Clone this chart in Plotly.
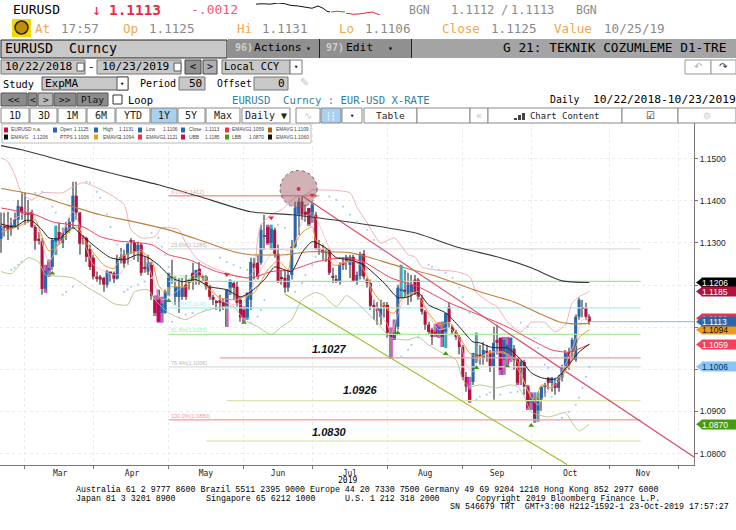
import plotly.graph_objects as go

W, H = 736, 530
PL, PR, PT, PB = 0, 694, 122, 465

opens = [1.1310,1.1341,1.1341,1.1334,1.1338,1.1355,1.1386,1.1372,1.1372,1.1374,
1.1338,1.1310,1.1305,1.1191,1.1234,1.1243,1.1303,1.1326,1.1300,1.1324,
1.1336,1.1350,1.1412,1.1372,1.1315,1.1312,1.1286,1.1265,1.1220,1.1220,
1.1217,1.1201,1.1232,1.1229,1.1215,1.1262,1.1272,1.1272,1.1307,1.1300,
1.1279,1.1296,1.1243,1.1232,1.1248,1.1165,1.1165,1.1134,1.1134,1.1196,
1.1220,1.1172,1.1172,1.1172,1.1201,1.1205,1.1229,1.1217,1.1239,1.1220,
1.1220,1.1196,1.1172,1.1160,1.1165,1.1160,1.1149,1.1194,1.1205,1.1196,
1.1165,1.1141,1.1123,1.1165,1.1251,1.1253,1.1253,1.1315,1.1338,1.1300,
1.1331,1.1274,1.1217,1.1217,1.1194,1.1224,1.1291,1.1367,1.1398,1.1374,
1.1383,1.1367,1.1367,1.1286,1.1284,1.1277,1.1284,1.1222,1.1213,1.1208,
1.1255,1.1255,1.1248,1.1267,1.1210,1.1222,1.1274,1.1213,1.1205,1.1151,
1.1146,1.1125,1.1153,1.1153,1.1087,1.1070,1.1101,1.1186,1.1189,1.1177,
1.1182,1.1213,1.1213,1.1170,1.1137,1.1106,1.1094,1.1089,1.1082,1.1094,
1.1089,1.1149,1.1101,1.1089,1.1077,1.1053,1.0982,1.0952,1.0970,1.1027,
1.1035,1.1027,1.1044,1.1041,1.1006,1.1070,1.1075,1.1023,1.1035,1.1023,
1.1049,1.1023,1.0987,1.1018,1.0959,1.0921,1.0928,1.0902,1.0928,1.0963,
1.0980,1.0968,1.0968,1.0956,1.0980,1.1004,1.1041,1.1041,1.1023,1.1125,
1.1146,1.1146,1.1125]
highs = [1.1372,1.1372,1.1374,1.1360,1.1372,1.1402,1.1421,1.1419,1.1402,1.1379,
1.1343,1.1326,1.1312,1.1248,1.1260,1.1312,1.1341,1.1348,1.1336,1.1350,
1.1360,1.1445,1.1445,1.1374,1.1319,1.1315,1.1296,1.1272,1.1232,1.1224,
1.1220,1.1236,1.1232,1.1232,1.1272,1.1288,1.1284,1.1300,1.1312,1.1307,
1.1303,1.1300,1.1267,1.1272,1.1255,1.1175,1.1189,1.1172,1.1189,1.1229,
1.1260,1.1220,1.1217,1.1217,1.1224,1.1213,1.1253,1.1236,1.1255,1.1224,
1.1224,1.1201,1.1177,1.1165,1.1177,1.1168,1.1189,1.1213,1.1208,1.1208,
1.1172,1.1149,1.1182,1.1265,1.1265,1.1270,1.1343,1.1367,1.1343,1.1343,
1.1336,1.1296,1.1236,1.1236,1.1236,1.1307,1.1398,1.1407,1.1414,1.1391,
1.1383,1.1395,1.1374,1.1307,1.1296,1.1288,1.1288,1.1241,1.1224,1.1255,
1.1265,1.1272,1.1272,1.1272,1.1232,1.1279,1.1284,1.1217,1.1213,1.1165,
1.1160,1.1165,1.1160,1.1160,1.1099,1.1118,1.1201,1.1248,1.1236,1.1229,
1.1224,1.1224,1.1217,1.1177,1.1141,1.1113,1.1099,1.1108,1.1111,1.1113,
1.1134,1.1160,1.1106,1.1094,1.1082,1.1058,1.0994,1.0982,1.1039,1.1087,
1.1058,1.1065,1.1058,1.1046,1.1101,1.1106,1.1075,1.1077,1.1077,1.1075,
1.1058,1.1027,1.1023,1.1023,1.0963,1.0945,1.0945,1.0945,1.0959,1.0968,
1.0982,1.0982,1.0980,1.0987,1.1011,1.1046,1.1051,1.1075,1.1130,1.1170,
1.1165,1.1158,1.1131]
lows = [1.1277,1.1315,1.1307,1.1317,1.1338,1.1331,1.1355,1.1343,1.1348,1.1336,
1.1284,1.1296,1.1177,1.1182,1.1220,1.1236,1.1272,1.1296,1.1288,1.1307,
1.1324,1.1336,1.1355,1.1272,1.1296,1.1255,1.1236,1.1213,1.1208,1.1201,
1.1184,1.1194,1.1208,1.1205,1.1213,1.1251,1.1241,1.1248,1.1274,1.1260,
1.1255,1.1222,1.1229,1.1224,1.1165,1.1127,1.1111,1.1111,1.1132,1.1175,
1.1203,1.1153,1.1134,1.1165,1.1165,1.1189,1.1189,1.1201,1.1201,1.1208,
1.1189,1.1165,1.1153,1.1141,1.1137,1.1141,1.1101,1.1177,1.1165,1.1149,
1.1113,1.1113,1.1118,1.1141,1.1213,1.1213,1.1248,1.1284,1.1296,1.1284,
1.1265,1.1205,1.1201,1.1182,1.1184,1.1213,1.1288,1.1319,1.1355,1.1350,
1.1341,1.1348,1.1284,1.1272,1.1260,1.1255,1.1224,1.1205,1.1205,1.1201,
1.1236,1.1236,1.1217,1.1208,1.1201,1.1213,1.1213,1.1194,1.1141,1.1118,
1.1106,1.1106,1.1123,1.1075,1.1025,1.1070,1.1094,1.1170,1.1170,1.1153,
1.1160,1.1177,1.1165,1.1130,1.1094,1.1082,1.1058,1.1077,1.1075,1.1053,
1.1051,1.1099,1.1082,1.1070,1.1035,1.0975,1.0947,1.0921,1.0963,1.1015,
1.1011,1.1011,1.1018,1.0994,1.0928,1.1035,1.0987,1.0987,1.1011,1.1018,
1.0999,1.0963,1.0963,1.0940,1.0904,1.0904,1.0873,1.0876,1.0902,1.0935,
1.0952,1.0947,1.0940,1.0947,1.0971,1.0999,1.0999,1.1025,1.1018,1.1118,
1.1123,1.1118,1.1106]
closes = [1.1341,1.1336,1.1331,1.1343,1.1357,1.1388,1.1372,1.1367,1.1367,1.1338,
1.1305,1.1305,1.1191,1.1234,1.1241,1.1307,1.1312,1.1305,1.1324,1.1336,
1.1350,1.1412,1.1372,1.1298,1.1310,1.1267,1.1243,1.1220,1.1215,1.1213,
1.1201,1.1232,1.1227,1.1215,1.1262,1.1265,1.1251,1.1298,1.1303,1.1279,
1.1296,1.1229,1.1239,1.1255,1.1175,1.1134,1.1113,1.1156,1.1184,1.1217,
1.1215,1.1196,1.1196,1.1196,1.1172,1.1213,1.1208,1.1236,1.1220,1.1217,
1.1196,1.1172,1.1165,1.1158,1.1158,1.1149,1.1189,1.1208,1.1194,1.1158,
1.1123,1.1123,1.1182,1.1255,1.1241,1.1220,1.1331,1.1319,1.1300,1.1334,
1.1274,1.1208,1.1215,1.1194,1.1224,1.1291,1.1383,1.1398,1.1367,1.1367,
1.1345,1.1391,1.1286,1.1284,1.1277,1.1281,1.1229,1.1217,1.1210,1.1248,
1.1248,1.1267,1.1267,1.1210,1.1224,1.1274,1.1220,1.1205,1.1151,1.1149,
1.1139,1.1146,1.1149,1.1087,1.1075,1.1087,1.1194,1.1191,1.1184,1.1201,
1.1201,1.1182,1.1172,1.1137,1.1106,1.1089,1.1077,1.1084,1.1101,1.1077,
1.1134,1.1113,1.1089,1.1077,1.1053,1.0982,1.0959,1.0928,1.1039,1.1035,
1.1030,1.1046,1.1039,1.1006,1.1063,1.1063,1.0999,1.1070,1.1058,1.1075,
1.1023,1.0968,1.1018,1.0959,1.0909,1.0940,1.0883,1.0928,1.0959,1.0959,
1.0968,1.0980,1.0956,1.0980,1.1006,1.1039,1.1011,1.1070,1.1125,1.1165,
1.1144,1.1125,1.1113]
magenta_bars = [13,14,45,46,47,66,71,78,90,114,115,127,128,129,137,146,147,148,151,154,155]
cyan_bars = [16,49,67,72,79,91,117,130,139,149,156,157]

ema_long_i = [0,6,19,32,46,58,73,85,97,109,122,133,146,155,164,172]
ema_long_v = [1.1531,1.1521,1.1493,1.1466,1.1438,1.1410,1.1374,1.1367,1.1355,1.1341,1.1322,1.1291,1.1265,1.1241,1.1210,1.1206]
ema_brown_i = [0,10,19,29,39,49,58,68,73,83,90,102,107,117,126,140,150,157,163,167,172]
ema_brown_v = [1.1429,1.1414,1.1391,1.1367,1.1350,1.1331,1.1307,1.1279,1.1272,1.1272,1.1279,1.1277,1.1267,1.1243,1.1224,1.1184,1.1160,1.1134,1.1113,1.1108,1.1109]
ema_red_i = [0,10,15,24,29,34,44,49,55,63,73,79,85,92,100,106,114,122,131,141,148,155,161,166,172]
ema_red_v = [1.1383,1.1367,1.1350,1.1338,1.1315,1.1305,1.1296,1.1272,1.1260,1.1232,1.1217,1.1232,1.1236,1.1255,1.1265,1.1255,1.1217,1.1196,1.1158,1.1125,1.1101,1.1070,1.1046,1.1041,1.1059]
ema_orange_i = [0,4,8,10,12,14,17,19,22,24,27,30,33,35,38,41,44,46,48,50,54,57,61,64,69,71,74,76,78,81,84,85,88,91,92,95,97,99,102,105,107,109,114,115,117,120,122,125,128,131,134,137,139,140,143,147,151,153,156,158,161,164,167,169,172]
ema_orange_v = [1.1326,1.1336,1.1350,1.1355,1.1315,1.1281,1.1296,1.1319,1.1338,1.1312,1.1277,1.1248,1.1239,1.1265,1.1277,1.1279,1.1260,1.1201,1.1182,1.1196,1.1196,1.1217,1.1189,1.1170,1.1165,1.1172,1.1182,1.1208,1.1236,1.1258,1.1236,1.1284,1.1324,1.1338,1.1307,1.1284,1.1248,1.1248,1.1260,1.1248,1.1220,1.1182,1.1134,1.1134,1.1165,1.1182,1.1172,1.1134,1.1106,1.1111,1.1077,1.1039,1.1030,1.1030,1.1041,1.1041,1.1018,1.0968,1.0923,1.0963,1.0956,1.0982,1.1025,1.1075,1.1094]
ema_black_i = [0,4,7,9,12,14,17,21,24,28,32,36,40,43,46,50,53,57,61,66,70,73,77,80,83,85,88,91,95,98,102,106,112,116,119,122,125,130,134,138,140,143,146,148,152,155,158,162,166,169,172]
ema_black_v = [1.1345,1.1338,1.1353,1.1353,1.1331,1.1312,1.1310,1.1336,1.1315,1.1288,1.1265,1.1260,1.1272,1.1265,1.1248,1.1217,1.1208,1.1213,1.1196,1.1189,1.1172,1.1184,1.1213,1.1243,1.1236,1.1232,1.1277,1.1303,1.1288,1.1265,1.1260,1.1248,1.1205,1.1170,1.1172,1.1182,1.1153,1.1134,1.1101,1.1065,1.1063,1.1053,1.1051,1.1051,1.1023,1.0992,1.0980,1.0977,1.1011,1.1041,1.1060]
ema_pink_i = [0,9,14,21,27,34,41,47,52,58,64,70,76,80,85,88,91,95,98,102,106,108,110,113,114,116,118,122,125,128,131,134,136,138,140,144,148,152,155,157,159,162,165,168,170,172]
ema_pink_v = [1.1336,1.1374,1.1255,1.1374,1.1248,1.1224,1.1284,1.1165,1.1189,1.1232,1.1165,1.1153,1.1236,1.1284,1.1284,1.1350,1.1372,1.1307,1.1255,1.1255,1.1255,1.1189,1.1141,1.1106,1.1082,1.1130,1.1170,1.1184,1.1130,1.1094,1.1099,1.1070,1.1011,1.0994,1.1027,1.1041,1.1035,1.0987,1.0933,1.0916,1.0940,1.0968,1.1011,1.1070,1.1118,1.1121]
ubb_i = [0,2,4,6,9,12,18,21,24,31,36,38,41,45,47,52,54,57,60,66,72,74,75,76,79,82,86,89,91,93,102,104,107,111,115,119,121,123,127,133,137,139,143,145,148,152,155,159,162,165,167,169,172]
ubb_v = [1.1502,1.1493,1.1462,1.1419,1.1402,1.1419,1.1419,1.1433,1.1443,1.1419,1.1391,1.1331,1.1312,1.1315,1.1336,1.1331,1.1300,1.1265,1.1248,1.1229,1.1217,1.1236,1.1307,1.1343,1.1367,1.1379,1.1407,1.1414,1.1426,1.1426,1.1419,1.1386,1.1348,1.1300,1.1312,1.1272,1.1267,1.1243,1.1236,1.1232,1.1220,1.1182,1.1158,1.1149,1.1113,1.1089,1.1111,1.1111,1.1089,1.1106,1.1158,1.1172,1.1185]
lbb_i = [0,3,6,8,11,13,15,21,25,30,33,37,39,43,45,49,54,58,63,68,71,75,79,82,85,88,92,94,98,101,104,110,114,119,122,125,129,133,135,137,140,145,149,151,153,155,160,165,167,169,172]
lbb_v = [1.1232,1.1227,1.1253,1.1265,1.1255,1.1224,1.1222,1.1217,1.1196,1.1172,1.1156,1.1153,1.1184,1.1189,1.1165,1.1134,1.1118,1.1134,1.1146,1.1149,1.1118,1.1101,1.1082,1.1101,1.1118,1.1165,1.1182,1.1177,1.1149,1.1175,1.1158,1.1111,1.1075,1.1070,1.1077,1.1058,1.1039,1.1023,1.0975,1.0959,1.0963,1.0956,1.0963,1.0959,1.0935,1.0899,1.0887,1.0897,1.0873,1.0854,1.0870]
ptps_i = [3,4,5,6,10,12,13,15,16,18,19,21,25,26,28,29,31,32,34,35,36,37,38,40,42,44,44,46,47,48,49,50,52,54,56,60,63,64,66,68,70,72,73,75,76,77,81,83,86,88,89,91,92,96,98,100,102,104,107,109,111,116,117,119,120,122,125,126,128,130,132,134,135,137,139,140,142,143,146,149,151,153,152,154,156,157,159,160,161,163,164,166,168,169,170,171,172]
ptps_v = [1.1236,1.1241,1.1248,1.1255,1.1419,1.1421,1.1405,1.1386,1.1372,1.1177,1.1184,1.1196,1.1445,1.1443,1.1421,1.1407,1.1367,1.1338,1.1296,1.1277,1.1184,1.1189,1.1196,1.1201,1.1208,1.1217,1.1324,1.1312,1.1291,1.1272,1.1243,1.1113,1.1123,1.1130,1.1134,1.1141,1.1146,1.1265,1.1255,1.1248,1.1241,1.1236,1.1111,1.1125,1.1141,1.1165,1.1343,1.1336,1.1184,1.1205,1.1224,1.1248,1.1267,1.1410,1.1402,1.1386,1.1367,1.1350,1.1331,1.1307,1.1284,1.1027,1.1030,1.1046,1.1058,1.1075,1.1248,1.1243,1.1236,1.1229,1.1217,1.1194,1.1172,1.1134,1.0928,1.0935,1.0940,1.0945,1.0940,1.0945,1.0947,1.0956,1.1111,1.1101,1.1075,1.1051,1.1011,1.1004,1.0935,1.0880,1.0885,1.0899,1.0916,1.0933,1.0956,1.0982,1.1006]

fib_labels = ["0.0%(1.1412)","23.6%(1.1286)","38.2%(1.1209)","50.0%(1.1146)","61.8%(1.1083)","76.4%(1.1006)","100.0%(1.0880)"]
fib_values = [1.1412,1.1286,1.1209,1.1146,1.1083,1.1006,1.0880]
fib_ends = [93,187,187,187,187,187,187]
fib_colors = ["#f59a9a","#dcdcdc","#9be89b","#9cf3f3","#a8ee9c","#dcdcdc","#f59a9a"]
level_labels = ["1.1027","1.0926","1.0830"]
level_values = [1.1027,1.0926,1.0830]
level_starts = [64,66,60]
level_label_x = [96,105,96]
level_colors = ["#f59a9a","#dde4b4","#dfeebc"]
trend_red_i, trend_red_v = [88,202.6],[1.1412,1.0792]
trend_green_i, trend_green_v = [83,165.5],[1.1179,1.0774]
down_i, down_v = [66,79,91],[1.1225,1.1360,1.1414]
up_i = [15,49,71,116,130,139,148,155]
up_v = [1.1228,1.1163,1.1111,1.1087,1.1037,1.1004,1.1008,1.0867]

y_ticks = [1.15,1.14,1.13,1.12,1.11,1.10,1.09,1.08]
y_text = ["1.1500","1.1400","1.1300","","","","1.0900","1.0800"]
month_pos = [17.3,38.3,59.9,81,102,124,145,166.4,187.7]
month_text = ["Mar","Apr","May","Jun","Jul","Aug","Sep","Oct","Nov"]
month_edges = [7,27,49,71,91,113,135,155,178,198]

spark_t_black = [0,6,14,22,29,34,42,49,56,62,67,71,74]
spark_v_black = [1.1137,1.1138,1.1137,1.1140,1.1138,1.1134,1.1132,1.1129,1.1126,1.1132,1.1126,1.1118,1.1116]
spark_t_green = [75,81,89]
spark_v_green = [1.1116,1.1118,1.1116]
spark_t_red = [90,97,104,110,116,124]
spark_v_red = [1.1113,1.1110,1.1111,1.1113,1.1116,1.1108]

tags = [("1.1206",1.1206,"#000000","#ffffff"),("1.1185",1.1185,"#b0123c","#ffffff"),
        ("1.1121",1.1121,"#f0304a","#ffffff"),("1.1094",1.1094,"#f09a1c","#111111"),
        ("1.1113",1.1113,"#2a66a8","#ffffff"),("1.1059",1.1059,"#f8405a","#ffffff"),
        ("1.1006",1.1006,"#8cc4f4","#10304a"),("1.0870",1.0870,"#4a9a10","#ffffff")]

idx = list(range(len(closes)))
MONO, SANS = "DejaVu Sans Mono", "Liberation Sans"
FOOT = "Liberation Mono"
px = lambda x: x / W
py = lambda y: 1 - y / H
shapes, annos = [], []

def rect(x0, y0, x1, y1, fill=None, line=None, w=1):
    shapes.append(dict(type="rect", xref="paper", yref="paper", x0=px(x0), x1=px(x1), y0=py(y0), y1=py(y1),
                       fillcolor=fill or "rgba(0,0,0,0)", line=dict(color=line or "rgba(0,0,0,0)", width=w if line else 0)))

def text(x, y, s, size=11, color="#000", font=MONO, anchor="left"):
    annos.append(dict(xref="paper", yref="paper", x=px(x), y=py(y), text=s, showarrow=False, xanchor=anchor,
                      yanchor="middle", borderpad=0, font=dict(size=size, color=color, family=font)))

# header rows
text(12, 10, "EURUSD", 13)
text(96, 10, "↓", 15, "#e82840", anchor="center")
text(108, 10, "<b>1.1113</b>", 14.4, "#f02848")
text(190, 10, "-.0012", 13, "#ee5a70")
GR = "#8a8a8a"; OR = "#f0a850"
text(408, 10, "BGN", 11.5, GR); text(450, 10, "1.1112", 12, GR); text(500, 10, "/", 12, GR); text(510, 10, "1.1113", 12, GR); text(575, 10, "BGN", 11.5, GR)
rect(12, 19, 31, 37, "#f4d800")
shapes.append(dict(type="circle", xref="paper", yref="paper", x0=px(15), x1=px(28), y0=py(34), y1=py(21), fillcolor="#c09000", line=dict(color="#222", width=1.5)))
for x, s, c in [(34,"At",OR),(60,"17:57",GR),(122,"Op",OR),(148,"1.1125",GR),(236,"Hi",OR),(261,"1.1131",GR),(338,"Lo",OR),(364,"1.1106",GR),
                (441,"Close",OR),(490,"1.1125",GR),(553,"Value",OR),(603,"10/25/19",GR)]:
    text(x, 29, s, 12.6, c)

# title bar
rect(1, 40, 227, 58, "#c8c8c8", "#222")
text(4, 49, "EURUSD  Curncy", 13.3)
rect(228, 39, 319, 58, "#909090")
rect(319, 39, 320, 58, "#222")
rect(320, 39, 411, 58, "#909090")
rect(411, 39, 412, 58, "#222")
rect(412, 39, 736, 58, "#a4a4a4")
text(234, 48, "<b>96)</b>", 10, "#cfcfcf"); text(253, 48, "Actions", 11.3); text(308, 49, "▾", 8, anchor="center")
text(325, 48, "<b>97)</b>", 10, "#cfcfcf"); text(345, 48, "Edit", 11.3); text(390, 49, "▾", 8, anchor="center")
text(502, 48, "G 21: TEKNIK COZUMLEME D1-TRE", 12.8)

# date row
rect(1, 60, 85, 74, "#c8c8c8", "#777"); rect(97, 60, 181, 74, "#c8c8c8", "#777")
text(4, 67, "10/22/2018", 11.2); text(101, 67, "10/23/2019", 11.2); text(91, 67, "-", 11, anchor="center")
rect(77, 63, 84, 71, "#ffffff", "#555"); rect(174, 63, 181, 71, "#ffffff", "#555")
rect(185, 60, 201, 74, "#909090", "#444"); rect(203, 60, 217, 74, "#b0b0b0", "#444")
text(193, 67, "&lt;", 10, anchor="center"); text(210, 67, "&gt;", 10, anchor="center")
rect(222, 60, 290, 74, "#c8c8c8", "#777"); rect(290, 60, 302, 74, "#ffffff", "#777")
text(223, 67, "Local CCY", 10.2); text(296, 67, "▾", 7, anchor="center")
rect(685, 60, 711, 74, "#ffffff", "#999"); rect(711, 60, 736, 74, "#ffffff", "#999")
text(698, 67, "↶", 10, "#b0b0b0", "DejaVu Sans", "center"); text(723, 67, "↷", 10, "#333", "DejaVu Sans", "center")

# study row
text(2, 84, "Study", 10.3); rect(42, 77, 128, 90, "#c8c8c8", "#555"); rect(117, 77, 128, 90, "#ffffff", "#555")
text(44, 84, "ExpMA", 11); text(122, 84, "▾", 7, anchor="center")
text(139, 84, "Period", 10); rect(179, 77, 205, 90, "#c8c8c8", "#777"); text(203, 84, "50", 11, anchor="right")
text(216, 84, "Offset", 9.6); rect(254, 77, 288, 90, "#c8c8c8", "#777"); text(286, 84, "0", 11, anchor="right")
text(304, 83, "✎", 11, "#c8c8c8", "DejaVu Sans", "center")

# playback row
DK = "#8c8c8c"
for x0, x1, s, f in [(1,27,"&lt;&lt;",DK),(28,37,"&lt;",DK),(38,53,"&gt;","#b8b8b8"),(54,76,"&gt;&gt;",DK),(77,108,"Play",DK)]:
    rect(x0, 93, x1, 106, f, "#555"); text((x0+x1)/2, 99.5, s, 9.5, "#111", anchor="center")
rect(113, 95, 122, 104, "#ffffff", "#333"); text(127, 99.5, "Loop", 10.4)
text(231, 100, "EURUSD  Curncy : EUR-USD X-RATE", 10.6, "#2f7f9f")
text(549, 100, "Daily", 9.8); text(592, 100, "10/22/2018-10/23/2019", 11.3)

# tabs
for x0, x1, s, f in [(1,29,"1D",None),(30,57,"3D",None),(58,86,"1M",None),(87,115,"6M",None),(116,150,"YTD",None),(151,177,"1Y","#a8d0f0"),
                     (178,205,"5Y",None),(206,240,"Max",None),(242,290,"Daily ▼",None)]:
    rect(x0, 108, x1, 123, f or "#ffffff", "#888"); text((x0+x1)/2, 116, s, 10, "#222", anchor="center")
rect(296, 108, 320, 123, "#ffffff", "#888"); text(308, 116, "∿", 10, "#cccccc", "DejaVu Sans", "center")
rect(321, 108, 341, 123, "#a8d0f0", "#888"); text(331, 116, "┇┇", 8, "#eaf3fb", "DejaVu Sans", "center")
rect(342, 108, 362, 123, "#ffffff", "#888"); text(352, 116, "▾", 7, anchor="center")
rect(364, 108, 417, 123, "#ffffff", "#888"); text(390, 116, "Table", 9.5, "#222", anchor="center")
rect(417, 108, 470, 123, "#ffffff", "#888")
rect(470, 108, 488, 123, "#ffffff", "#888"); text(479, 116, "«", 10, "#bbbbbb", anchor="center")
rect(488, 108, 622, 123, "#ffffff", "#888"); text(529, 116, "Chart Content", 8.9, "#222")
for a, b in [(514,118),(518,115),(522,113)]:
    rect(a, b, a+3, 120, "#444")
rect(622, 108, 678, 123, "#ffffff", "#888"); text(650, 116, "☑", 10, "#222", "DejaVu Sans", "center")
rect(678, 108, 736, 123, "#ffffff", "#888"); text(707, 116, "⚙", 9, "#cccccc", "DejaVu Sans", "center")

# legend box
rect(2, 124, 311, 143, "#ffffff", "#bbbbbb")
legend_swatch_x = [4,53,94,138,181,225,268]
legend_name_x = [10,59,102,145,188,231,275]
legend_value_x = [32,73,118,162,204,248,293]
legend_rows = [(130, [("#c0143c","EURUSD","n.a."),("#2a66a8","Open","1.1125"),("#2a66a8","High","1.1131"),("#2a66a8","Low","1.1106"),
                      ("#2a66a8","Close","1.1113"),("#f0304a","EMAVG","1.1059"),("#a8600c","EMAVG","1.1109")]),
               (137, [("#111111","EMAVG","1.1206"),(None,"PTPS","1.1006"),("#f09a1c","EMAVG","1.1094"),("#f0304a","EMAVG","1.1121"),
                      ("#c0143c","UBB","1.1185"),("#4a9a10","LBB","1.0870"),("#111111","EMAVG","1.1060")])]
for yy, row in legend_rows:
    for sx, nx, vx, (c, name, val) in zip(legend_swatch_x, legend_name_x, legend_value_x, row):
        if c:
            rect(sx, yy-2.5, sx+4, yy+2.5, c)
        else:
            rect(sx+1, yy-0.5, sx+2, yy+0.5, "#8cc4f4")
        text(nx, yy, name, 4.9, "#444", SANS)
        text(vx, yy, val, 4.9, "#444", SANS)

# price tags
to_y = lambda v: 465 - (v - 1.0773) / (1.1587 - 1.0773) * 343
for s, v, bg, fg in tags:
    yy = to_y(v)
    shapes.append(dict(type="path", xref="paper", yref="paper", fillcolor=bg, line=dict(width=0),
                       path=f"M {px(696)} {py(yy)} L {px(702)} {py(yy-4.5)} L {px(702)} {py(yy+4.5)} Z"))
    annos.append(dict(xref="paper", yref="paper", x=px(701), y=py(yy), text=s, showarrow=False, xanchor="left", yanchor="middle",
                      width=35, height=9, align="left", bgcolor=bg, borderpad=0, font=dict(size=8.5, color=fg, family=SANS)))

# footer
FT = 8.3
text(75, 489.5, "Australia 61 2 9777 8600 Brazil 5511 2395 9000 Europe 44 20 7330 7500 Germany 49 69 9204 1210 Hong Kong 852 2977 6000", FT, font=FOOT)
text(75, 498, "Japan 81 3 3201 8900", FT, font=FOOT); text(205, 498, "Singapore 65 6212 1000", FT, font=FOOT); text(344, 498, "U.S. 1 212 318 2000", FT, font=FOOT)
text(475, 498, "Copyright 2019 Bloomberg Finance L.P.", FT, font=FOOT)
text(449, 506.5, "SN 546679 TRT  GMT+3:00 H212-1592-1 23-Oct-2019 17:57:27", FT, font=FOOT)
text(347, 480.5, "2019", 8, anchor="center")

# chart annotations tied to data
for lab, v, c in zip(fib_labels, fib_values, fib_colors):
    annos.append(dict(xref="x", yref="y", x=49, y=v, text=lab, showarrow=False, xanchor="left", yanchor="bottom", yshift=-1,
                      font=dict(size=5.5, color=c if c != "#dcdcdc" else "#b8b8b8", family=SANS)))
for lab, v, lx in zip(level_labels, level_values, level_label_x):
    annos.append(dict(xref="x", yref="y", x=lx, y=v, text=f"<b><i>{lab}</i></b>", showarrow=False, xanchor="center", yanchor="bottom",
                      yshift=1 if lab != "1.0926" else 3, font=dict(size=11, color="#111", family=SANS)))

shapes.append(dict(type="circle", xref="x", yref="y", xsizemode="pixel", ysizemode="pixel", xanchor=87, yanchor=1.1428,
                   x0=-18.5, x1=18.5, y0=-18.5, y1=18.5, fillcolor="rgba(150,85,95,0.45)", line=dict(color="#7a5a5a", width=1, dash="dot")))

fig = go.Figure()
def bars(x, base, top, width, color):
    fig.add_bar(x=x, base=base, y=[t - b for t, b in zip(top, base)], width=width, marker=dict(color=color, line=dict(width=0)),
                hoverinfo="skip", showlegend=False)

for i_list, col in [(magenta_bars, "#e412d4"), (cyan_bars, "#22d8f2")]:
    bars(i_list, [lows[i] for i in i_list], [highs[i] for i in i_list], 1.0, col)
bars(idx, lows, highs, 0.32, "#8c8c8c")
bars(idx, [min(o, c) for o, c in zip(opens, closes)], [max(o, c) for o, c in zip(opens, closes)], 0.9,
     ["#2a66a8" if c >= o else "#b2123c" for o, c in zip(opens, closes)])

def line(x, y, color, width=1, shape="linear", dash=None, xa="x", ya="y"):
    fig.add_scatter(x=x, y=y, mode="lines", line=dict(color=color, width=width, shape=shape, dash=dash, smoothing=0.6),
                    hoverinfo="skip", showlegend=False, xaxis=xa, yaxis=ya)

for v, e, c in zip(fib_values, fib_ends, fib_colors):
    line([49, e], [v, v], c, 1.3)
for v, s, c in zip(level_values, level_starts, level_colors):
    line([s, 187], [v, v], c, 1.3)
line([172, 202.6], [closes[-1], closes[-1]], "#8fb4dc", 1)
line(trend_green_i, trend_green_v, "#9ac02c", 1.1)
line(trend_red_i, trend_red_v, "#d84a62", 1.1)
line(lbb_i, lbb_v, "#b4c088", 0.9, "spline")
line(ubb_i, ubb_v, "#eca8b0", 0.9, "spline")
line(ema_pink_i, ema_pink_v, "#f6b8c0", 0.8, "spline")
line(ema_long_i, ema_long_v, "#3a3a3a", 1.1, "spline")
line(ema_brown_i, ema_brown_v, "#bd7f3c", 1.1, "spline")
line(ema_red_i, ema_red_v, "#f0405a", 1.0, "spline")
line(ema_orange_i, ema_orange_v, "#f09a2c", 1.0, "spline")
line(ema_black_i, ema_black_v, "#222222", 1.0, "spline")
fig.add_scatter(x=ptps_i, y=ptps_v, mode="markers", marker=dict(size=2.2, color="#a8d0f2"), hoverinfo="skip", showlegend=False)
fig.add_scatter(x=down_i, y=down_v, mode="markers", marker=dict(size=5, symbol="triangle-down", color="#f02040"), hoverinfo="skip", showlegend=False)
fig.add_scatter(x=up_i, y=up_v, mode="markers", marker=dict(size=5, symbol="triangle-up", color="#3a9a10"), hoverinfo="skip", showlegend=False)
fig.add_scatter(x=[87], y=[1.1428], mode="markers", marker=dict(size=4, color="#f02040"), hoverinfo="skip", showlegend=False)

line(spark_t_black, spark_v_black, "#111111", 1, xa="x2", ya="y2")
line(spark_t_green, spark_v_green, "#2a9a2a", 1, xa="x2", ya="y2")
line(spark_t_red, spark_v_red, "#f02030", 1, xa="x2", ya="y2")

GRID = "#ececec"
fig.update_layout(
    width=W, height=H, autosize=False, margin=dict(l=0, r=0, t=0, b=0, autoexpand=False), barmode="overlay",
    paper_bgcolor="#ffffff", plot_bgcolor="#ffffff", showlegend=False, shapes=shapes, annotations=annos,
    xaxis=dict(domain=[px(PL), px(PR)], range=[-0.3, 202.6], anchor="y", tickmode="array", tickvals=month_pos, ticktext=month_text,
               ticks="", showgrid=False, zeroline=False, showline=True, linecolor="#777777", linewidth=1,
               tickfont=dict(size=8, family=MONO, color="#222"),
               minor=dict(tickmode="array", tickvals=month_edges, ticks="outside", ticklen=3, tickcolor="#777777",
                          showgrid=True, gridcolor=GRID, griddash="dot", gridwidth=1)),
    yaxis=dict(domain=[py(PB), py(PT)], range=[1.0773, 1.1587], anchor="x", side="right", tickmode="array", tickvals=y_ticks, ticktext=y_text,
               ticks="outside", ticklen=3, tickcolor="#777777", showline=True, linecolor="#777777", linewidth=1, zeroline=False,
               showgrid=True, gridcolor=GRID, griddash="dot", tickfont=dict(size=8.5, family=SANS, color="#222")),
    xaxis2=dict(domain=[px(256), px(380)], range=[0, 124], anchor="y2", visible=False),
    yaxis2=dict(domain=[py(15), py(3)], range=[1.1108, 1.1140], anchor="x2", visible=False),
)
fig.write_html("out.html", config=dict(displayModeBar=False), post_script="document.body.style.margin='0';document.body.style.overflow='hidden';")
